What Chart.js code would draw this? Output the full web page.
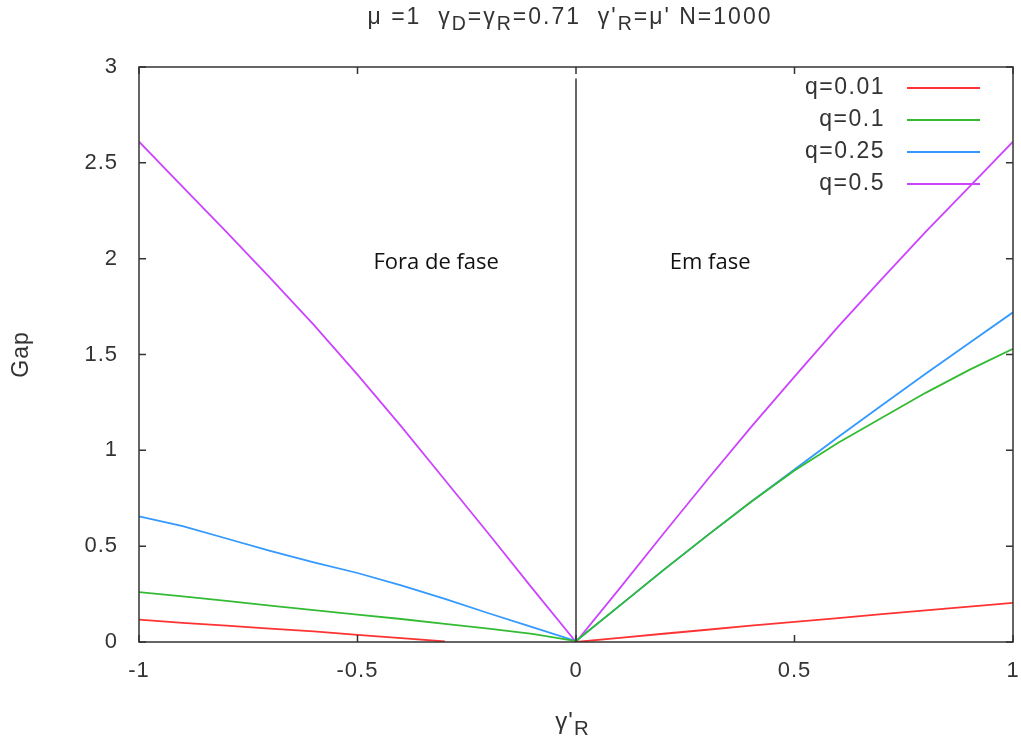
<!DOCTYPE html>
<html>
<head>
<meta charset="utf-8">
<script src="https://cdn.jsdelivr.net/npm/chart.js@4.4.1/dist/chart.umd.min.js"></script>
<style>
  html, body { margin: 0; padding: 0; background: #fff; }
  #wrap { position: relative; width: 1021px; height: 747px; }
  .lbl { position: absolute; font-family: "Liberation Sans", Arial, sans-serif; color: #333; white-space: nowrap; }
  .lbl sub { font-size: 0.85em; vertical-align: -0.3em; }
  #titulo { left: 0; width: 1140px; top: 3px; text-align: center; font-size: 23px; letter-spacing: 2px; }
  #xlabel { left: 0; width: 1145px; top: 707px; text-align: center; font-size: 24px; letter-spacing: 1px; }
</style>
</head>
<body>
<div id="wrap">
  <canvas id="gapChart" width="1021" height="747"></canvas>
  <div id="titulo" class="lbl">μ =1 &nbsp;γ<sub>D</sub>=γ<sub>R</sub>=0.71 &nbsp;γ'<sub>R</sub>=μ' N=1000</div>
  <div id="xlabel" class="lbl">γ'<sub>R</sub></div>
</div>
<script>
// valores (gamma'_R de -1 a 1, passo 0.1)
const xs = [-1, -0.9, -0.8, -0.7, -0.6, -0.5, -0.4, -0.3, -0.2, -0.1, 0,
            0.1, 0.2, 0.3, 0.4, 0.5, 0.6, 0.7, 0.8, 0.9, 1];

const gapQ001 = [0.117, 0.10, 0.085, 0.07, 0.055, 0.037, 0.02, 0.003, null, null, 0,
                 0.022, 0.043, 0.064, 0.085, 0.105, 0.125, 0.145, 0.165, 0.185, 0.204];
const gapQ01  = [0.26, 0.238, 0.215, 0.19, 0.166, 0.143, 0.12, 0.095, 0.07, 0.042, 0.005,
                 0.19, 0.375, 0.555, 0.73, 0.895, 1.04, 1.17, 1.30, 1.42, 1.53];
const gapQ025 = [0.656, 0.605, 0.54, 0.475, 0.415, 0.36, 0.295, 0.225, 0.15, 0.078, 0.005,
                 0.19, 0.375, 0.555, 0.73, 0.90, 1.07, 1.235, 1.40, 1.56, 1.72];
const gapQ05  = [2.61, 2.375, 2.14, 1.90, 1.655, 1.395, 1.125, 0.845, 0.565, 0.28, 0,
                 0.28, 0.565, 0.845, 1.12, 1.385, 1.645, 1.895, 2.14, 2.375, 2.61];

const series = [
  { label: "q=0.01", values: gapQ001, color: "#ff3333" },
  { label: "q=0.1",  values: gapQ01,  color: "#33bb33" },
  { label: "q=0.25", values: gapQ025, color: "#3399ff" },
  { label: "q=0.5",  values: gapQ05,  color: "#cc44ff" }
];

// linha vertical em gamma'_R = 0
const divisorX = [0, 0];
const divisorY = [0, 2.94];

const yTicks = [0, 0.5, 1, 1.5, 2, 2.5, 3];
const xTicks = [-1, -0.5, 0, 0.5, 1];

const anotacoes = [
  { text: "Fora de fase", x: -0.32, y: 1.98 },
  { text: "Em fase", x: 0.307, y: 1.98 }
];

const fonteEixo = { family: "'Liberation Sans', Arial, sans-serif", size: 22 };

// espacamento de letras parecido com o do gnuplot
const espacamento = {
  id: "espacamento",
  beforeUpdate(chart) { chart.ctx.letterSpacing = "1px"; },
  beforeDraw(chart) { chart.ctx.letterSpacing = "1px"; }
};

// caixa, ticks internos, legenda e textos
const extras = {
  id: "extras",
  afterDatasetsDraw(chart) {
    const ctx = chart.ctx;
    const a = chart.chartArea;
    const sx = chart.scales.x, sy = chart.scales.y;
    ctx.save();
    ctx.strokeStyle = "#333";
    ctx.lineWidth = 1.5;
    ctx.strokeRect(a.left, a.top, a.right - a.left, a.bottom - a.top);
    ctx.beginPath();
    yTicks.forEach(v => {
      const p = sy.getPixelForValue(v);
      ctx.moveTo(a.left, p); ctx.lineTo(a.left + 7, p);
      ctx.moveTo(a.right, p); ctx.lineTo(a.right - 7, p);
    });
    xTicks.forEach(v => {
      const p = sx.getPixelForValue(v);
      ctx.moveTo(p, a.bottom); ctx.lineTo(p, a.bottom - 7);
      ctx.moveTo(p, a.top); ctx.lineTo(p, a.top + 7);
    });
    ctx.stroke();

    // legenda no estilo gnuplot
    ctx.letterSpacing = "1.5px";
    ctx.font = "23px 'Liberation Sans', Arial, sans-serif";
    ctx.textAlign = "right";
    ctx.textBaseline = "middle";
    series.forEach((s, i) => {
      const y = 88 + i * 32;
      ctx.fillStyle = "#333";
      ctx.fillText(s.label, 885, y);
      ctx.strokeStyle = s.color;
      ctx.lineWidth = 2;
      ctx.beginPath();
      ctx.moveTo(907, y); ctx.lineTo(980, y);
      ctx.stroke();
    });

    ctx.letterSpacing = "0px";
    ctx.font = "22px 'Open Sans', sans-serif";
    ctx.textAlign = "center";
    ctx.fillStyle = "#111";
    anotacoes.forEach(t => {
      ctx.fillText(t.text, sx.getPixelForValue(t.x), sy.getPixelForValue(t.y));
    });
    ctx.restore();
  }
};

const datasets = series.map(s => ({
  label: s.label,
  data: xs.map((x, i) => ({ x: x, y: s.values[i] })),
  borderColor: s.color,
  borderWidth: 1.8,
  pointRadius: 0,
  tension: 0,
  spanGaps: false
}));
datasets.push({
  label: "divisor",
  data: divisorX.map((x, i) => ({ x: x, y: divisorY[i] })),
  borderColor: "#000",
  borderWidth: 1.2,
  pointRadius: 0
});

new Chart(document.getElementById("gapChart"), {
  type: "line",
  data: { datasets: datasets },
  options: {
    responsive: false,
    animation: false,
    layout: { padding: { top: 67, right: 8, left: 0, bottom: 0 } },
    plugins: { legend: { display: false }, tooltip: { enabled: false } },
    scales: {
      x: {
        type: "linear", min: -1, max: 1,
        afterFit: s => { s.height = 105; s.paddingLeft = 0; s.paddingRight = 0; },
        afterBuildTicks: s => { s.ticks = xTicks.map(v => ({ value: v })); },
        grid: { drawOnChartArea: false, drawTicks: false },
        border: { display: false },
        ticks: { font: fonteEixo, color: "#333", padding: 16, callback: v => String(v) }
      },
      y: {
        min: 0, max: 3,
        afterFit: s => { s.width = 139; s.paddingTop = 0; s.paddingBottom = 0; },
        afterBuildTicks: s => { s.ticks = yTicks.map(v => ({ value: v })); },
        grid: { drawOnChartArea: false, drawTicks: false },
        border: { display: false },
        ticks: { font: fonteEixo, color: "#333", padding: 21, callback: v => String(v) },
        title: { display: true, text: "Gap", font: { family: fonteEixo.family, size: 23 }, color: "#333", padding: { top: 8 } }
      }
    }
  },
  plugins: [espacamento, extras]
});
</script>
</body>
</html>
